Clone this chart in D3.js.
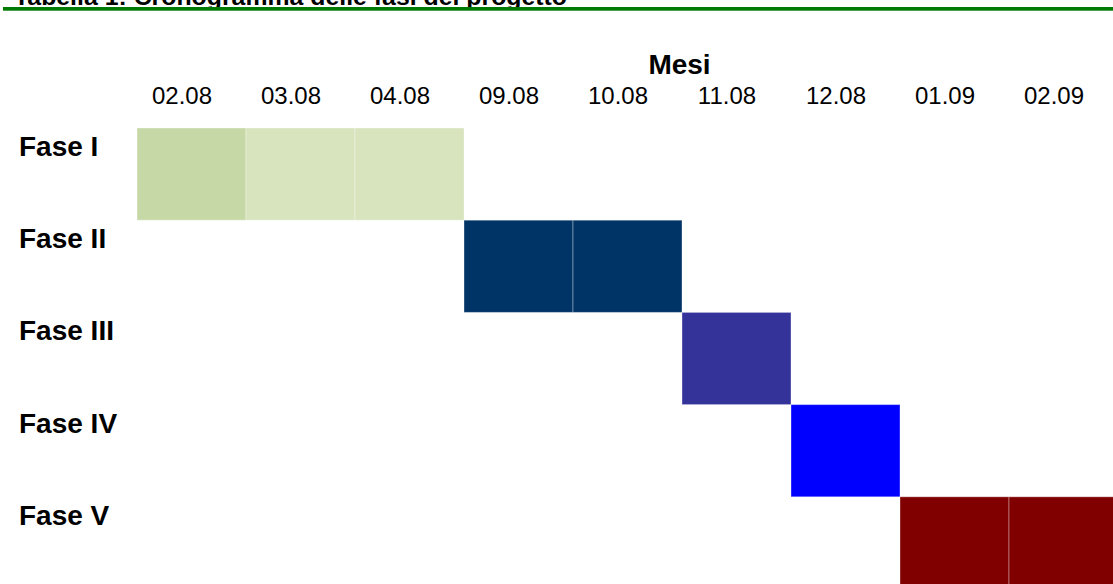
<!DOCTYPE html>
<html>
<head>
<meta charset="utf-8">
<script src="https://cdn.jsdelivr.net/npm/d3@7"></script>
<style>
  body { margin: 0; background: #fff; overflow: hidden; }
  svg { display: block; font-family: "Liberation Sans", Arial, sans-serif; }
</style>
</head>
<body>
<div id="vis"></div>
<script>
// months on the x axis
var months = ["02.08", "03.08", "04.08", "09.08", "10.08", "11.08", "12.08", "01.09", "02.09"];
// phases on the rows
var phases = ["Fase I", "Fase II", "Fase III", "Fase IV", "Fase V"];
// which month each phase starts in and how many months it lasts
var phaseStart = ["02.08", "09.08", "11.08", "12.08", "01.09"];
var phaseLength = [3, 2, 1, 1, 2];
var phaseColors = ["#d7e4bd", "#003366", "#333399", "#0000ff", "#800000"];
// first month of Fase I is a bit darker
var firstCellColor = "#c6d8a5";

var w = 1113;
var h = 584;

var svg = d3.select("#vis")
	.append("svg")
	.attr("width", w)
	.attr("height", h);

// title of the table, cut by the page top
svg.append("text")
	.attr("x", 14)
	.attr("y", 4.5)
	.attr("font-size", 24.8)
	.attr("font-weight", "bold")
	.attr("textLength", 553)
	.text("Tabella 1: Cronogramma delle fasi del progetto");

svg.append("rect")
	.attr("x", 3)
	.attr("y", 7)
	.attr("width", w - 3)
	.attr("height", 3.7)
	.attr("fill", "#007a00");

var x = d3.scaleBand()
	.domain(months)
	.range([137, 137 + 109 * months.length])
	.padding(0);

var y = d3.scaleBand()
	.domain(phases)
	.range([128, 128 + 92.2 * phases.length])
	.padding(0);

// cells, one per month of each phase
var cells = [];
phases.forEach(function(p, i) {
	var s = months.indexOf(phaseStart[i]);
	for (var k = 0; k < phaseLength[i]; k++) {
		cells.push({
			phase: p,
			month: months[s + k],
			color: (i == 0 && k == 0) ? firstCellColor : phaseColors[i]
		});
	}
});

svg.selectAll("rect.cell")
	.data(cells)
	.enter()
	.append("rect")
	.attr("class", "cell")
	.attr("x", function(d) { return x(d.month); })
	.attr("y", function(d) { return y(d.phase); })
	.attr("width", x.bandwidth())
	.attr("height", y.bandwidth())
	.attr("fill", function(d) { return d.color; })
	.attr("stroke", "rgba(255,255,255,0.35)")
	.attr("stroke-width", 1);

// header
svg.append("text")
	.attr("x", 679.5)
	.attr("y", 74)
	.attr("text-anchor", "middle")
	.attr("font-size", 28)
	.attr("font-weight", "bold")
	.text("Mesi");

svg.selectAll("text.month")
	.data(months)
	.enter()
	.append("text")
	.attr("class", "month")
	.attr("x", function(d) { return x(d) + x.bandwidth() / 2 - 9.5; })
	.attr("y", 104)
	.attr("text-anchor", "middle")
	.attr("font-size", 24)
	.text(function(d) { return d; });

svg.selectAll("text.phase")
	.data(phases)
	.enter()
	.append("text")
	.attr("class", "phase")
	.attr("x", 19)
	.attr("y", function(d) { return y(d) + 28; })
	.attr("font-size", 28)
	.attr("font-weight", "bold")
	.text(function(d) { return d; });
</script>
</body>
</html>
